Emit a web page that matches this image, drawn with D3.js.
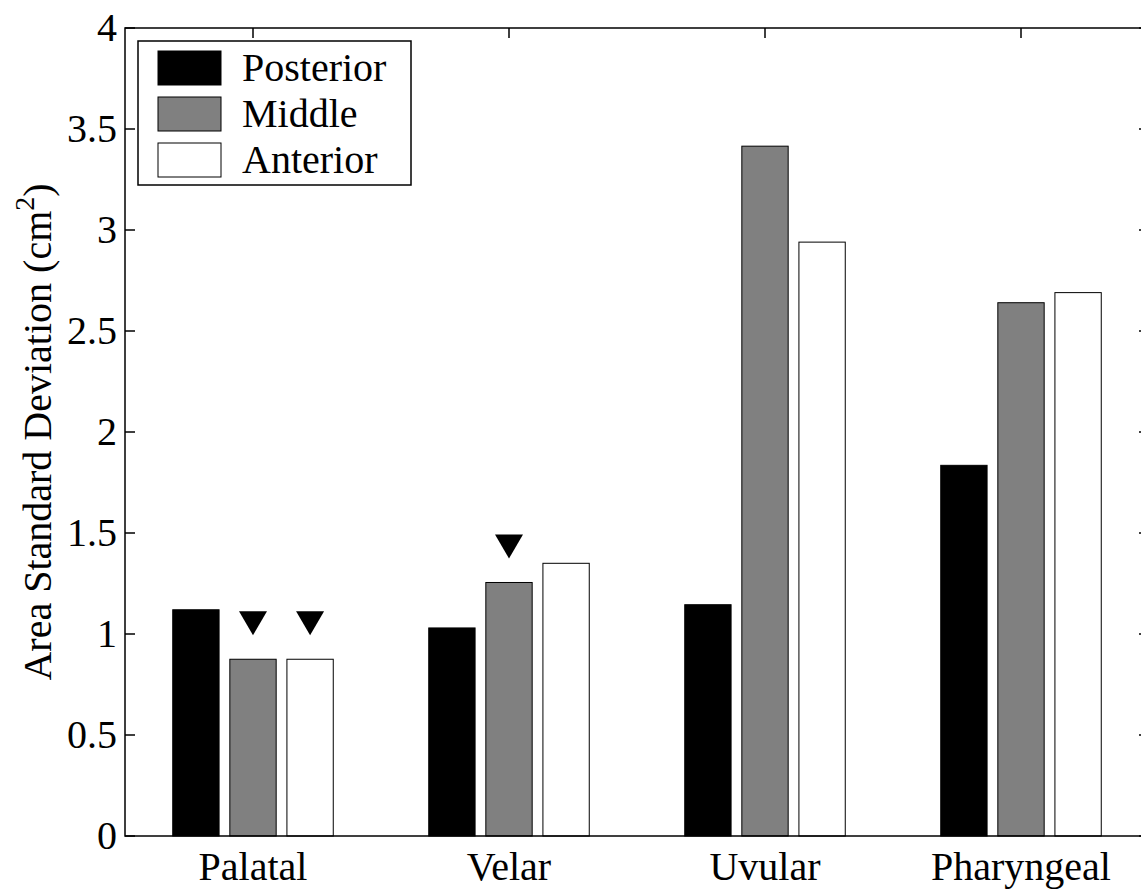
<!DOCTYPE html>
<html>
<head>
<meta charset="utf-8">
<script src="https://cdn.jsdelivr.net/npm/d3@7"></script>
<style>
  html, body { margin: 0; padding: 0; background: #fff; overflow: hidden; }
</style>
</head>
<body>
<svg id="chart" width="1141" height="891" font-family="Liberation Serif"></svg>
<script>
// data
var categories = ["Palatal", "Velar", "Uvular", "Pharyngeal"];
var seriesNames = ["Posterior", "Middle", "Anterior"];
var posterior = [1.12, 1.03, 1.145, 1.835];
var middle = [0.875, 1.255, 3.415, 2.64];
var anterior = [0.875, 1.35, 2.94, 2.69];
var yTicks = [0, 0.5, 1, 1.5, 2, 2.5, 3, 3.5, 4];
// bars that carry a triangle marker above them
var markers = [
  { cat: 0, series: 1 },
  { cat: 0, series: 2 },
  { cat: 1, series: 1 }
];

var seriesValues = [posterior, middle, anterior];
var fills = ["#000000", "#808080", "#ffffff"];

function drawChart() {
  var svg = d3.select("#chart");

  var axLeft = 125, axRight = 1149, axTop = 28, axBottom = 836;

  // matlab style: groups at 1..4, axis from 0.5 to 4.5
  var x = d3.scaleLinear().domain([0.5, 4.5]).range([axLeft, axRight]);
  var y = d3.scaleLinear().domain([0, 4]).range([axBottom, axTop]);

  var offsets = [-0.223, 0, 0.223];
  var barW = 0.181;

  var g = svg.append("g");

  // ticks on bottom / top (drawn first so bars cover the bottom ones)
  var tickLen = 10;
  g.append("g").selectAll("line")
    .data(categories)
    .enter().append("line")
    .attr("x1", function(d, i) { return x(i + 1); })
    .attr("x2", function(d, i) { return x(i + 1); })
    .attr("y1", axBottom)
    .attr("y2", axBottom - tickLen)
    .attr("stroke", "#000").attr("stroke-width", 1.5);

  g.append("g").selectAll("line")
    .data(categories)
    .enter().append("line")
    .attr("x1", function(d, i) { return x(i + 1); })
    .attr("x2", function(d, i) { return x(i + 1); })
    .attr("y1", axTop)
    .attr("y2", axTop + tickLen)
    .attr("stroke", "#000").attr("stroke-width", 1.5);

  // bars
  var rows = [];
  seriesValues.forEach(function(vals, s) {
    vals.forEach(function(v, c) {
      rows.push({ s: s, c: c, v: v });
    });
  });

  g.append("g").selectAll("rect")
    .data(rows)
    .enter().append("rect")
    .attr("x", function(d) { return x(d.c + 1 + offsets[d.s] - barW / 2); })
    .attr("width", function(d) { return x(barW) - x(0); })
    .attr("y", function(d) { return y(d.v); })
    .attr("height", function(d) { return y(0) - y(d.v); })
    .attr("fill", function(d) { return fills[d.s]; })
    .attr("stroke", "#000")
    .attr("stroke-width", 1);

  // triangle markers, sitting a little above the bar top
  g.append("g").selectAll("path")
    .data(markers)
    .enter().append("path")
    .attr("d", function(d) {
      var cx = x(d.cat + 1 + offsets[d.series]);
      var yTop = y(seriesValues[d.series][d.cat]) - 48;
      return "M" + (cx - 14) + "," + yTop + "L" + (cx + 14) + "," + yTop + "L" + cx + "," + (yTop + 24) + "Z";
    })
    .attr("fill", "#000");

  // axes box
  g.append("rect")
    .attr("x", axLeft).attr("y", axTop)
    .attr("width", axRight - axLeft).attr("height", axBottom - axTop)
    .attr("fill", "none")
    .attr("stroke", "#000").attr("stroke-width", 1.5);

  // y ticks left and right
  g.append("g").selectAll("line")
    .data(yTicks)
    .enter().append("line")
    .attr("x1", axLeft).attr("x2", axLeft + tickLen)
    .attr("y1", function(d) { return y(d); })
    .attr("y2", function(d) { return y(d); })
    .attr("stroke", "#000").attr("stroke-width", 1.5);

  g.append("g").selectAll("line")
    .data(yTicks)
    .enter().append("line")
    .attr("x1", axRight).attr("x2", axRight - tickLen)
    .attr("y1", function(d) { return y(d); })
    .attr("y2", function(d) { return y(d); })
    .attr("stroke", "#000").attr("stroke-width", 1.5);

  // tick labels
  g.append("g").selectAll("text")
    .data(yTicks)
    .enter().append("text")
    .attr("x", axLeft - 8)
    .attr("y", function(d) { return y(d) + 13; })
    .attr("text-anchor", "end")
    .attr("font-family", "Liberation Serif")
    .attr("font-size", 40)
    .text(function(d) { return d; });

  g.append("g").selectAll("text")
    .data(categories)
    .enter().append("text")
    .attr("x", function(d, i) { return x(i + 1); })
    .attr("y", axBottom + 44)
    .attr("text-anchor", "middle")
    .attr("font-family", "Liberation Serif")
    .attr("font-size", 40)
    .text(function(d) { return d; });

  // y label
  var yl = svg.append("text")
    .attr("transform", "translate(51," + ((axTop + axBottom) / 2) + ") rotate(-90)")
    .attr("text-anchor", "middle")
    .attr("font-family", "Liberation Serif")
    .attr("font-size", 40);
  yl.append("tspan").text("Area Standard Deviation (cm");
  yl.append("tspan").attr("dy", -17).attr("font-size", 28).text("2");
  yl.append("tspan").attr("dy", 17).text(")");

  // legend
  var lg = svg.append("g");
  lg.append("rect")
    .attr("x", 138).attr("y", 41)
    .attr("width", 273).attr("height", 144)
    .attr("fill", "#fff")
    .attr("stroke", "#000").attr("stroke-width", 1.5);

  var item = lg.selectAll("g")
    .data(seriesNames)
    .enter().append("g")
    .attr("transform", function(d, i) { return "translate(0," + (i * 46) + ")"; });

  item.append("rect")
    .attr("x", 158).attr("y", 51)
    .attr("width", 63).attr("height", 34)
    .attr("fill", function(d, i) { return fills[i]; })
    .attr("stroke", "#000").attr("stroke-width", 1);

  item.append("text")
    .attr("x", 242).attr("y", 81)
    .attr("font-family", "Liberation Serif")
    .attr("font-size", 40)
    .text(function(d) { return d; });
}

drawChart();
</script>
</body>
</html>
